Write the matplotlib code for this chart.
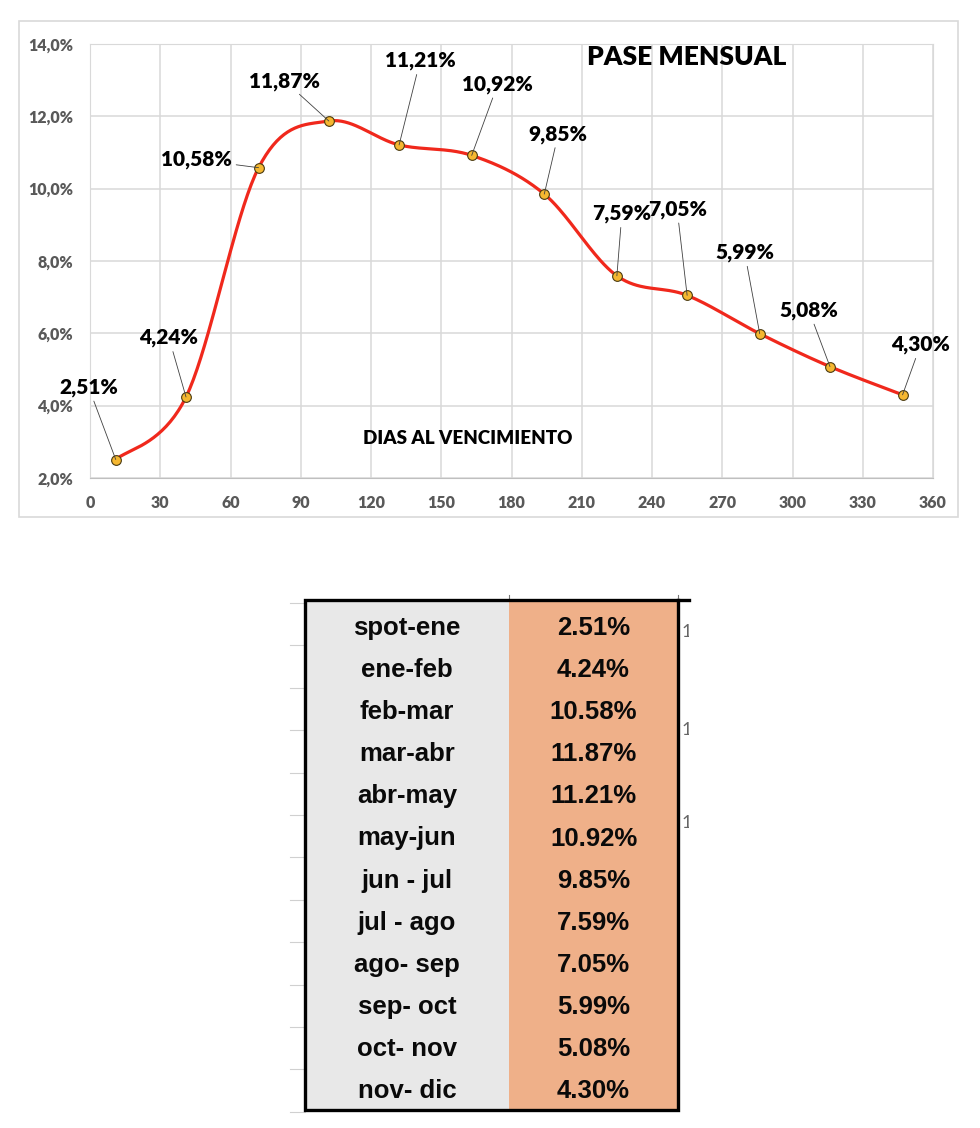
import numpy as np
import matplotlib
matplotlib.use("Agg")
import matplotlib.pyplot as plt
from matplotlib.patches import Rectangle
from matplotlib.ticker import FuncFormatter

# datos del pase mensual
dias = [11, 41, 72, 102, 132, 163, 194, 225, 255, 286, 316, 347]
pase = [2.51, 4.24, 10.58, 11.87, 11.21, 10.92, 9.85, 7.59, 7.05, 5.99, 5.08, 4.30]
tramos = ["spot-ene", "ene-feb", "feb-mar", "mar-abr", "abr-may", "may-jun",
          "jun - jul", "jul - ago", "ago- sep", "sep- oct", "oct- nov", "nov- dic"]

x_ticks = list(range(0, 361, 30))
y_ticks = [2, 4, 6, 8, 10, 12, 14]

# offset (px) de cada etiqueta respecto a su punto
label_off = [(-27, 72), (-17, 59), (-62, 8), (-44, 40), (21, 84), (26, 71),
             (14, 60), (5, 62), (-10, 86), (-15, 81), (-21, 56), (18, 50)]

W, H = 980, 1128


def excel_smooth(x, y, n=40):
    # curva suavizada tipo Excel (bezier con puntos de control catmull-rom)
    p = np.column_stack([x, y]).astype(float)
    pts = np.vstack([p[0], p, p[-1]])
    out = []
    t = np.linspace(0, 1, n)[:, None]
    for i in range(1, len(pts) - 2):
        p0, p1, p2, p3 = pts[i - 1], pts[i], pts[i + 1], pts[i + 2]
        c1 = p1 + (p2 - p0) / 6
        c2 = p2 - (p3 - p1) / 6
        seg = ((1 - t) ** 3) * p1 + 3 * ((1 - t) ** 2) * t * c1 + 3 * (1 - t) * t ** 2 * c2 + t ** 3 * p2
        out.append(seg)
    out = np.vstack(out)
    return out[:, 0], out[:, 1]


fig = plt.figure(figsize=(W / 100, H / 100), dpi=100)
fig.patch.set_facecolor("white")

# marco del grafico
fig.patches.append(Rectangle((19 / W, 1 - 517 / H), (958 - 19) / W, (517 - 21) / H,
                             transform=fig.transFigure, fill=False,
                             edgecolor="#d9d9d9", lw=1.2))

ax = fig.add_axes([90 / W, 1 - 478 / H, (933 - 90) / W, (478 - 44) / H])
ax.set_xlim(0, 360)
ax.set_ylim(2, 14)
ax.set_xticks(x_ticks)
ax.set_yticks(y_ticks)
ax.grid(True, color="#d9d9d9", lw=1.1)
ax.set_axisbelow(True)
for s in ax.spines.values():
    s.set_color("#d9d9d9")
ax.spines["bottom"].set_color("#bfbfbf")
ax.tick_params(length=0, pad=12, labelsize=11.5, labelcolor="#595959")
for lab in ax.get_xticklabels() + ax.get_yticklabels():
    lab.set_fontweight("heavy")
    lab.set_family("Lato")
ax.yaxis.set_major_formatter(FuncFormatter(lambda v, p: f"{v:.1f}%".replace(".", ",")))

sx, sy = excel_smooth(dias, pase)
ax.plot(sx, sy, color="#f0281c", lw=2.3, zorder=3)
ax.plot(dias, pase, "o", ms=7, mfc="#f5b730", mec="#4a3a10", mew=0.8, zorder=4)

for d, v, (ox, oy) in zip(dias, pase, label_off):
    ax.annotate(f"{v:.2f}%".replace(".", ","), xy=(d, v), xytext=(ox, oy),
                textcoords="offset pixels", ha="center", va="center",
                fontsize=15, fontweight="heavy", family="Lato", color="black",
                arrowprops=dict(arrowstyle="-", color="#404040", lw=0.6,
                                shrinkA=1, shrinkB=0),
                zorder=5)

fig.text(687 / W, 1 - 57 / H, "PASE MENSUAL", ha="center", va="center",
         fontsize=19, fontweight="heavy", family="Lato")
fig.text(468 / W, 1 - 439 / H, "DIAS AL VENCIMIENTO", ha="center", va="center",
         fontsize=13.5, fontweight="heavy", family="Lato")

# tabla
tx = fig.add_axes([0, 0, 1, 1], facecolor="none")
tx.set_xlim(0, W)
tx.set_ylim(H, 0)
tx.axis("off")

left, mid, right = 305, 509, 678
top, bottom = 600, 1110
row_h = 42.1

tx.add_patch(Rectangle((left, top), mid - left, bottom - top, facecolor="#e8e8e8", edgecolor="none"))
tx.add_patch(Rectangle((mid, top), right - mid, bottom - top, facecolor="#efb089", edgecolor="none"))
tx.add_patch(Rectangle((left, top), right - left, bottom - top, facecolor="none",
                       edgecolor="black", lw=2.4, zorder=3))
tx.plot([right, 689], [top, top], color="black", lw=2.4)
tx.plot([mid, mid], [595, top], color="#777777", lw=0.8)
tx.plot([right, right], [595, top], color="#777777", lw=0.8)

# lineas de celdas a la izquierda (restos de la planilla)
for k in range(13):
    yy = 603 + k * 42.4
    tx.plot([290, left], [yy, yy], color="#d0d0d0", lw=0.8)

for i, (nm, v) in enumerate(zip(tramos, pase)):
    yc = 628 + i * row_h
    tx.text((left + mid) / 2, yc, nm, ha="center", va="center", fontsize=18.5,
            fontweight="bold", family="Liberation Sans", color="#0a0a0a")
    tx.text((mid + right) / 2, yc, f"{v:.2f}%", ha="center", va="center", fontsize=18.5,
            fontweight="bold", family="Liberation Sans", color="#0a0a0a")

for yy in [632, 730, 823]:
    tx.text(682, yy, "1", ha="left", va="center", fontsize=13, color="#666666",
            family="Lato")
tx.add_patch(Rectangle((688.5, 610), 40, 240, facecolor="white", edgecolor="none", zorder=4))

fig.savefig("out.png", dpi=100)
